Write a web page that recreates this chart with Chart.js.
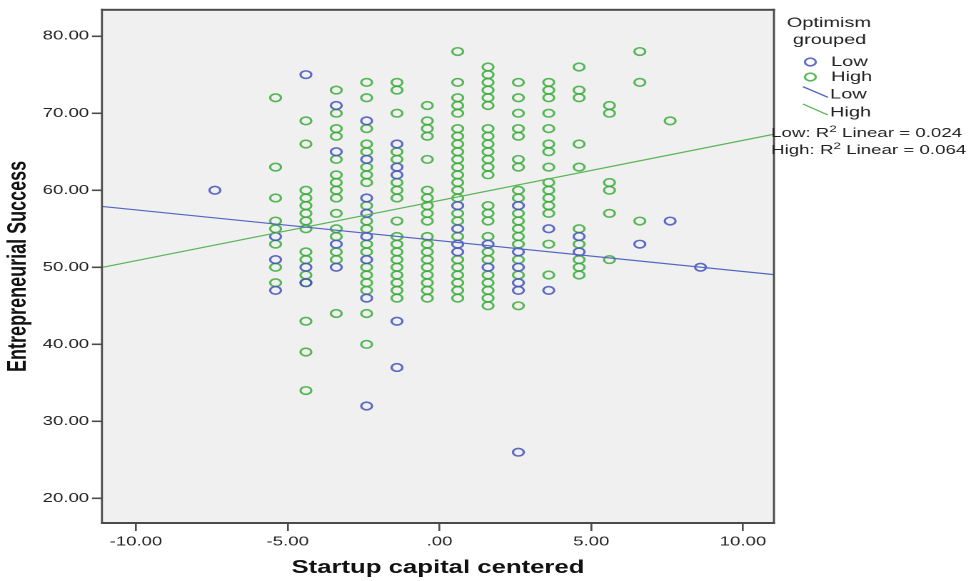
<!DOCTYPE html>
<html>
<head>
<meta charset="utf-8">
<title>Entrepreneurial Success vs Startup capital</title>
<script src="https://cdn.jsdelivr.net/npm/chart.js@4.4.1/dist/chart.umd.min.js"></script>
<style>
  html, body { margin: 0; padding: 0; background: #fff; }
</style>
</head>
<body>
<!-- drawn narrow and stretched wide, like the original SPSS export -->
<canvas id="successChart" width="680" height="581" style="display:block;width:971px;height:581px"></canvas>
<script>
// startup capital (centered) columns
const capitalLevels = [-7.4, -5.4, -4.4, -3.4, -2.4, -1.4, -0.4, 0.6, 1.6, 2.6, 3.6, 4.6, 5.6, 6.6, 7.6, 8.6];

// entrepreneurial success per column, low optimism group
const lowSuccess = [
  [60],
  [54, 51, 47],
  [75, 50, 48],
  [71, 65, 53, 50],
  [69, 64, 59, 57, 54, 51, 46, 32],
  [66, 63, 62, 43, 37],
  [],
  [58, 55, 53, 52],
  [53, 50],
  [58, 52, 50, 48, 47, 26],
  [55, 47],
  [54, 52],
  [],
  [53],
  [56],
  [50]
];

// entrepreneurial success per column, high optimism group
const highSuccess = [
  [],
  [72, 63, 59, 56, 55, 53, 50, 48],
  [69, 66, 60, 59, 58, 57, 56, 55, 52, 51, 49, 48, 43, 39, 34],
  [73, 70, 68, 67, 64, 62, 61, 60, 59, 57, 55, 54, 52, 51, 44],
  [74, 72, 68, 66, 65, 63, 62, 61, 58, 56, 55, 53, 52, 50, 49, 48, 47, 44, 40],
  [74, 73, 70, 65, 64, 61, 60, 59, 56, 54, 53, 52, 51, 50, 49, 48, 47, 46],
  [71, 69, 68, 67, 64, 60, 59, 58, 57, 56, 54, 53, 52, 51, 50, 49, 48, 47, 46],
  [78, 74, 72, 71, 70, 68, 67, 66, 65, 64, 63, 62, 61, 60, 59, 57, 56, 54, 51, 50, 49, 48, 47, 46],
  [76, 75, 74, 73, 72, 71, 68, 67, 66, 65, 64, 63, 62, 58, 57, 56, 54, 52, 51, 49, 48, 47, 46, 45],
  [74, 72, 70, 68, 67, 64, 63, 60, 59, 57, 56, 55, 54, 53, 51, 49, 45],
  [74, 73, 72, 70, 68, 66, 65, 63, 61, 60, 59, 58, 57, 53, 49],
  [76, 73, 72, 66, 63, 55, 53, 51, 50, 49],
  [71, 70, 61, 60, 57, 51],
  [78, 74, 56],
  [69],
  []
];

// linear fit lines: [low, high]
const groupNames = ['Low', 'High'];
const fitIntercepts = [53.45, 58.66];
const fitSlopes = [-0.400, 0.781];
const fitR2 = ['0.024', '0.064'];

const xTicks = [-10, -5, 0, 5, 10];
const yTicks = [20, 30, 40, 50, 60, 70, 80];
const xRange = [-11.12, 11.02];
const yRange = [16.81, 83.42];

const BLUE = 'rgba(66, 82, 186, 0.85)';
const GREEN = 'rgba(48, 168, 48, 0.8)';
const BLUE_LINE = '#5466c4';
const GREEN_LINE = '#58b658';
const FONT = "'Liberation Sans', Arial, sans-serif";
const DOT_R = 3.8;

function toPoints(values) {
  const pts = [];
  capitalLevels.forEach((x, i) => {
    values[i].forEach(y => pts.push({ x: x, y: y }));
  });
  return pts;
}

function fitLine(k) {
  return xRange.map(x => ({ x: x, y: fitIntercepts[k] + fitSlopes[k] * x }));
}

const plotFrame = {
  id: 'plotFrame',
  beforeDraw(chart) {
    const { ctx, chartArea: a } = chart;
    ctx.save();
    ctx.fillStyle = '#f0f0f0';
    ctx.fillRect(a.left, a.top, a.right - a.left, a.bottom - a.top);
    ctx.restore();
  },
  afterDraw(chart) {
    const { ctx, chartArea: a } = chart;
    ctx.save();
    ctx.fillStyle = '#4a4a4a';
    ctx.fillRect(a.left - 0.7, a.top - 1, a.right - a.left + 1.4, 2);
    ctx.fillRect(a.left - 0.7, a.bottom - 1, a.right - a.left + 1.4, 2);
    ctx.fillRect(a.left - 0.7, a.top - 1, 1.4, a.bottom - a.top + 2);
    ctx.fillRect(a.right - 0.7, a.top - 1, 1.4, a.bottom - a.top + 2);

    // legend
    ctx.fillStyle = '#222';
    ctx.textBaseline = 'middle';
    ctx.font = '14px ' + FONT;
    ctx.textAlign = 'center';
    ctx.fillText('Optimism', 580.5, 23);
    ctx.fillText('grouped', 581, 40);

    ctx.textAlign = 'left';
    const markColors = [BLUE, GREEN];
    const lineColors = [BLUE_LINE, GREEN_LINE];
    [62, 77].forEach((y, k) => {
      ctx.beginPath();
      ctx.strokeStyle = markColors[k];
      ctx.lineWidth = 1.6;
      ctx.arc(567.5, y, DOT_R, 0, Math.PI * 2);
      ctx.stroke();
      ctx.fillText(groupNames[k], 582, y);
    });
    [[86.7, 97.3], [104, 115]].forEach((ys, k) => {
      ctx.beginPath();
      ctx.strokeStyle = lineColors[k];
      ctx.lineWidth = 1.2;
      ctx.moveTo(562.3, ys[0]);
      ctx.lineTo(579.8, ys[1]);
      ctx.stroke();
      ctx.fillText(groupNames[k], 581.3, ys[1] - 2.5);
    });

    // R squared notes
    [133.5, 150.5].forEach((y, k) => {
      let x = 540;
      const head = groupNames[k] + ': R';
      ctx.font = '13.1px ' + FONT;
      ctx.fillText(head, x, y);
      x += ctx.measureText(head).width;
      ctx.font = '9.5px ' + FONT;
      ctx.fillText('2', x, y - 4);
      x += ctx.measureText('2').width;
      ctx.font = '13.1px ' + FONT;
      ctx.fillText(' Linear = ' + fitR2[k], x, y);
    });
    ctx.restore();
  }
};

new Chart(document.getElementById('successChart'), {
  type: 'scatter',
  data: {
    datasets: [
      {
        label: 'Low',
        data: toPoints(lowSuccess),
        borderColor: BLUE,
        backgroundColor: 'transparent',
        pointRadius: DOT_R,
        borderWidth: 1.6,
        order: 2
      },
      {
        label: 'High',
        data: toPoints(highSuccess),
        borderColor: GREEN,
        backgroundColor: 'transparent',
        pointRadius: DOT_R,
        borderWidth: 1.6,
        order: 2
      },
      {
        label: 'Low fit',
        data: fitLine(0),
        showLine: true,
        borderColor: BLUE_LINE,
        borderWidth: 1.2,
        pointRadius: 0,
        order: 1
      },
      {
        label: 'High fit',
        data: fitLine(1),
        showLine: true,
        borderColor: GREEN_LINE,
        borderWidth: 1.2,
        pointRadius: 0,
        order: 1
      }
    ]
  },
  options: {
    responsive: false,
    devicePixelRatio: 2,
    animation: false,
    layout: { padding: { top: 7, right: 138, left: 0, bottom: 0 } },
    plugins: { legend: { display: false }, tooltip: { enabled: false } },
    scales: {
      x: {
        type: 'linear',
        min: xRange[0],
        max: xRange[1],
        afterFit(scale) { scale.height = 58; },
        afterBuildTicks(scale) { scale.ticks = xTicks.map(v => ({ value: v })); },
        grid: { drawOnChartArea: false, drawTicks: true, tickLength: 8, color: '#4a4a4a', lineWidth: 1.3 },
        border: { display: false },
        ticks: {
          padding: 3,
          color: '#222',
          font: { family: FONT, size: 13 },
          maxRotation: 0,
          callback: v => v === 0 ? '.00' : v.toFixed(2)
        },
        title: {
          display: true,
          text: 'Startup capital centered',
          color: '#111',
          font: { family: FONT, size: 18, weight: 'bold' },
          padding: { top: 0, bottom: 2 }
        }
      },
      y: {
        type: 'linear',
        min: yRange[0],
        max: yRange[1],
        afterFit(scale) { scale.width = 71.4; },
        afterBuildTicks(scale) { scale.ticks = yTicks.map(v => ({ value: v })); },
        grid: { drawOnChartArea: false, drawTicks: true, tickLength: 7, color: '#4a4a4a', lineWidth: 1.6 },
        border: { display: false },
        ticks: {
          padding: 2,
          color: '#222',
          font: { family: FONT, size: 13 },
          callback: v => v.toFixed(2)
        },
        title: {
          display: true,
          text: 'Entrepreneurial Success',
          color: '#111',
          font: { family: FONT, size: 18, weight: 'bold' },
          padding: { top: 2, bottom: 0 }
        }
      }
    }
  },
  plugins: [plotFrame]
});
</script>
</body>
</html>
